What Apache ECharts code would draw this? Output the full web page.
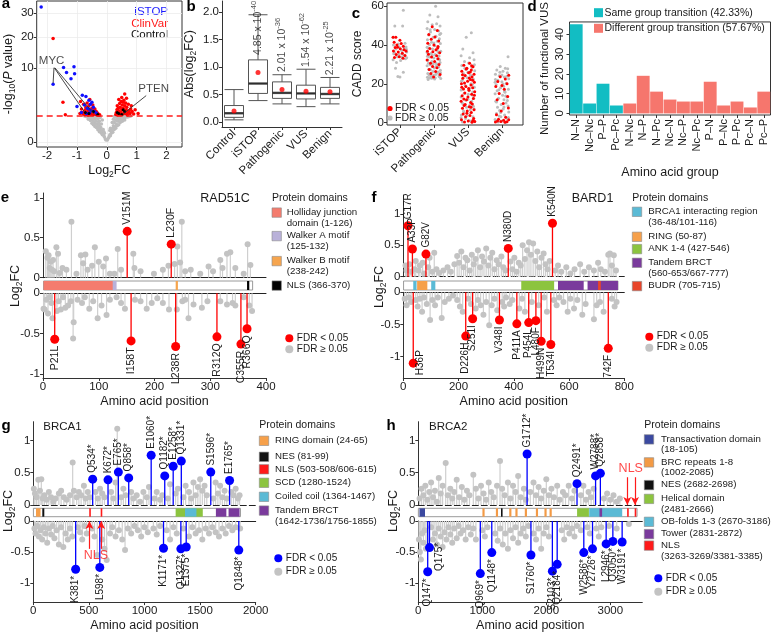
<!DOCTYPE html>
<html><head><meta charset="utf-8">
<script src="https://cdn.jsdelivr.net/npm/echarts@6/dist/echarts.min.js"></script>
<style>html,body{margin:0;padding:0;background:#fff}#c{width:772px;height:635px}</style>
</head><body><div id="c"></div>
<script>
// ---------------- DATA ----------------
// Panel a: volcano plot [log2FC, -log10(P)]
const aGray = [[-0.05,0.02],[-0.08,0.05],[-0.1,0.08],[-0.12,0.12],[-0.15,0.1],[-0.15,0.2],[-0.18,0.15],[-0.2,0.25],[-0.2,0.4],[-0.22,0.3],[-0.25,0.2],[-0.25,0.5],[-0.28,0.35],[-0.3,0.6],[-0.3,0.28],[-0.32,0.45],[-0.35,0.8],[-0.35,0.4],[-0.38,0.6],[-0.4,1.0],[-0.4,0.45],[-0.42,0.75],[-0.45,0.55],[-0.45,1.1],[-0.48,0.9],[-0.5,0.65],[-0.52,1.2],[-0.55,0.85],[-0.58,1.0],[-0.6,1.25],[-0.62,0.95],[-0.65,1.15],[-0.7,1.2],[-0.75,1.25],[-0.12,0.3],[-0.1,0.2],[-0.25,0.8],[-0.3,1.0],[-0.18,0.6],[-0.22,1.1],[-0.15,0.9],[-0.28,1.25],[-0.35,1.2],[-0.08,0.15],[-0.03,0.01],[-0.55,1.25],[-0.45,0.8],[-0.38,1.05],[-0.5,1.0],[-0.27,0.65],
[0.05,0.03],[0.08,0.06],[0.1,0.1],[0.12,0.08],[0.15,0.15],[0.15,0.25],[0.18,0.2],[0.2,0.35],[0.2,0.18],[0.22,0.5],[0.25,0.3],[0.25,0.7],[0.28,0.45],[0.3,0.9],[0.3,0.35],[0.32,0.6],[0.35,1.1],[0.35,0.5],[0.38,0.8],[0.4,1.0],[0.4,0.55],[0.42,1.2],[0.45,0.7],[0.45,1.0],[0.48,0.85],[0.5,1.15],[0.52,0.8],[0.55,1.0],[0.58,1.2],[0.6,0.9],[0.62,1.1],[0.65,1.25],[0.7,1.15],[0.75,1.2],[0.8,1.25],[0.12,0.35],[0.18,0.7],[0.22,0.95],[0.28,1.15],[0.1,0.25],[0.25,1.2],[0.02,0.01],[0.33,0.85],[0.43,0.95],[0.5,1.25],[0.36,1.22]];
const aRed = [[-1.8,19.4],[-1.47,2.9],[-1.39,1.36],[-0.9,1.5],[-0.85,2.0],[-0.8,1.45],[-0.78,2.6],[-0.75,1.7],[-0.72,1.9],[-0.7,2.2],[-0.68,1.4],[-0.65,1.6],[-0.62,1.8],[-0.6,2.4],[-0.58,1.5],[-0.55,1.9],[-0.53,1.4],[-0.5,2.1],[-0.48,1.6],[-0.46,1.35],[-0.44,1.8],[-0.42,1.45],[-0.4,2.0],[-0.38,1.5],[-0.36,1.4],[-0.34,1.65],[-0.32,1.35],[-0.3,1.5],[-0.28,1.4],[-0.26,1.32],[-0.24,1.38],[-0.88,3.0],[-0.66,2.8],[-0.57,3.3],[-0.47,2.5],[-0.73,1.35],[-0.52,1.7],[-0.37,1.75],[-0.63,1.35],[-0.83,1.6],
[0.3,1.4],[0.32,1.6],[0.34,1.9],[0.35,2.4],[0.37,1.5],[0.38,2.1],[0.4,1.8],[0.42,1.4],[0.43,2.7],[0.45,2.2],[0.47,1.6],[0.48,3.0],[0.5,1.9],[0.52,2.5],[0.54,1.45],[0.55,2.1],[0.57,3.2],[0.58,1.7],[0.6,2.4],[0.62,1.5],[0.63,2.8],[0.65,1.9],[0.67,2.2],[0.7,1.6],[0.72,2.6],[0.75,1.8],[0.78,1.5],[0.8,2.0],[0.85,1.7],[0.9,1.45],[0.95,1.9],[1.05,1.5],[0.66,3.5],[0.4,3.3],[0.5,3.6],[0.6,4.2],[0.36,1.35],[0.44,1.55],[0.69,1.35],[0.82,2.4],[0.55,2.9],[0.46,1.38]];
const aBlue = [[-2.2,33],[-2.36,27.7],[-1.8,6.1],[-1.45,10.1],[-1.35,8.8],[-1.1,10.3],[-1.08,8.5],[-1.2,7.3],[-0.82,4.0],[-1.0,2.3],[-0.7,3.8],[-0.6,3.2],[-0.55,2.6],[-0.65,2.1],[-0.5,2.9],[-0.45,2.2],[-0.75,2.5],[-0.6,2.0],[-0.52,1.8],[-0.42,1.7],[-0.85,1.6],[-0.68,1.5],[-0.35,1.55],[-0.58,1.55]];
const aBlack = [[-0.6,1.5],[-0.45,1.7],[-0.3,1.4],[-0.72,1.6],[0.4,1.5],[0.55,1.9],[0.35,1.6],[0.5,1.4],[0.6,1.7]];
const aThreshold = 1.3;
const aXTicks = [-2,-1,0,1,2];
const aYTicks = [0,10,20,30];
const aAnnotLines = [[[-1.77,10.0],[-1.8,6.3]],[[-1.76,10.0],[-0.74,1.63]],[[-1.74,10.0],[-0.44,1.47]],[[1.32,3.93],[0.56,1.47]]];
const aAnnotText = [[-1.85,12.0,'MYC'],[1.57,5.2,'PTEN']];

// Panel b: boxplot stats [min,Q1,median,Q3,max]
const bCats = ['Control','iSTOP','Pathogenic','VUS','Benign'];
const bBox = [[0.04,0.085,0.16,0.30,0.59],[0.39,0.52,0.70,1.13,1.95],[0.33,0.43,0.53,0.73,0.86],[0.28,0.42,0.52,0.67,0.96],[0.33,0.43,0.51,0.63,0.81]];
const bMean = [0.20,0.90,0.59,0.56,0.55];
const bPMant = [null,'4.85','2.01','1.54','2.21'];
const bPExp = [null,'-40','-36','-62','-25'];
const bPAt = [null,1.22,0.91,1.0,0.85];

// Panel c: CADD score, [jitter, score]
const cCats = ['iSTOP','Pathogenic','VUS','Benign'];
const cIstopGray = [[0.1,58],[-0.15,49.8],[0.08,49.8],[-0.2,44],[0.15,41],[-0.05,40.5],[0.18,39],[-0.12,38],[0.05,37.2],[0.2,36.5],[-0.18,35.5],[0.12,34.8],[-0.08,34],[0.16,33],[-0.2,32.5],[0.02,32],[-0.1,31],[-0.13,28],[0.1,26],[0.0,23.5],[-0.06,23.8],[0.19,37.8],[-0.16,36.2],[0.07,35.5],[-0.03,39.2],[0.13,38.6],[-0.19,40],[0.2,33.5],[-0.02,35.2],[0.05,33.8]];
const cIstopRed = [[-0.2,44],[-0.12,44],[0.0,42.5],[-0.17,41.5],[0.04,40.8],[-0.09,40],[0.1,39.4],[-0.14,38.7],[0.01,38.1],[0.12,37.6],[-0.19,37],[-0.05,36.4],[0.07,35.8],[-0.11,35.2],[0.15,34.6],[-0.02,34],[0.09,33.2],[-0.16,33.6],[0.18,36.9],[-0.07,38.9]];
const cPathGray = [[0.05,60],[-0.12,55.5],[0.12,54.6],[-0.18,52],[0.08,51],[-0.05,50.5],[0.18,49.8],[-0.2,48.6],[0.02,48],[0.14,47.2],[-0.1,46.8],[0.2,46],[-0.15,45.2],[0.06,44.6],[-0.02,44],[0.16,43.3],[-0.19,42.7],[0.1,42],[-0.07,41.5],[0.19,40.8],[-0.13,40.2],[0.03,39.7],[0.13,39],[-0.17,38.5],[-0.04,38],[0.09,37.3],[0.2,36.8],[-0.2,36.2],[-0.09,35.6],[0.04,35.1],[0.15,34.4],[-0.14,33.9],[0.0,33.3],[0.11,32.8],[-0.18,32.2],[-0.06,31.6],[0.18,31],[0.07,30.5],[-0.11,29.8],[-0.2,29.3],[0.14,28.7],[0.01,28.2],[-0.15,27.6],[0.19,27],[-0.03,26.4],[0.1,25.9],[-0.18,25.3],[0.05,24.8],[-0.08,24.2],[0.16,23.7],[-0.13,23.1],[0.02,22.5],[0.2,22.8],[-0.19,23.4],[-0.01,24.5],[0.12,26.1],[-0.1,27.3],[0.07,29.1],[-0.16,30.7],[0.17,32.5],[-0.05,34.7],[0.13,36.3],[-0.2,38.9],[0.0,41.1],[0.17,45.4],[-0.11,47.9],[0.08,25.5],[-0.17,22.3],[0.15,24.1],[-0.07,22.9],[0.04,23.2],[-0.14,24.6],[0.19,25.7],[0.11,29.6],[-0.02,30.3],[-0.19,34.2]];
const cPathRed = [[-0.05,49.5],[0.1,47.5],[-0.15,45.5],[0.03,44.2],[-0.08,43],[0.14,42.1],[-0.18,41],[0.0,40],[0.12,39.3],[-0.12,38.2],[0.06,37.6],[-0.03,36.6],[0.17,36],[-0.16,35.3],[0.08,34.5],[-0.07,33.8],[0.12,33],[-0.2,32.3],[0.02,31.5],[-0.1,30.6],[0.15,30],[-0.04,29],[0.09,28.3],[-0.14,27.4],[0.05,26.4],[-0.09,25.4],[0.18,24.8],[-0.01,23.5],[0.11,38.5],[-0.19,36.8]];
const cVusGray = [[0.1,46.4],[-0.05,44],[-0.15,38],[0.15,36],[-0.2,34.5],[0.05,33.5],[0.18,32.4],[-0.1,31.6],[0.02,30.8],[-0.18,29.5],[0.12,28.6],[-0.06,27.5],[0.2,26.8],[-0.13,25.4],[0.07,24.6],[-0.02,23.2],[0.16,22.4],[-0.19,21.3],[0.09,20.1],[-0.08,19.2],[0.19,18.2],[-0.15,17.3],[0.04,16.4],[-0.11,15.2],[0.14,14.1],[-0.2,13.2],[0.0,12.1],[0.11,11],[-0.17,10.2],[0.06,9.1],[-0.04,8],[0.18,7.1],[-0.13,6],[0.08,5.1],[-0.19,4],[0.15,3.1],[-0.07,2.2],[0.03,1.1],[-0.16,0.3],[0.2,0.5],[-0.1,23.9],[0.13,19.7],[-0.2,16.9],[0.01,14.6],[0.17,12.6],[-0.14,9.6],[0.07,6.6],[-0.03,3.6],[0.19,29.8],[-0.09,28.1],[0.12,24.1],[-0.17,21.8],[0.05,17.8],[-0.06,11.5],[0.16,8.5],[-0.2,2.6],[0.1,0.8],[-0.12,5.5],[0.0,26],[0.14,15.8]];
const cVusRed = [[0.05,30.6],[-0.12,29.6],[0.15,28.8],[-0.03,28],[0.1,27.2],[-0.18,26.5],[0.02,25.8],[0.18,25],[-0.08,24.3],[0.12,23.6],[-0.15,22.9],[0.07,22.2],[-0.01,21.4],[0.19,20.8],[-0.19,20.1],[0.09,19.4],[-0.06,18.7],[0.14,18],[-0.13,17.3],[0.03,16.7],[0.2,16],[-0.09,15.3],[0.11,14.6],[-0.17,13.9],[0.0,13.2],[0.16,12.5],[-0.04,11.8],[-0.2,11.1],[0.08,10.4],[0.13,9.6],[-0.11,8.9],[0.04,8.2],[-0.16,7.4],[0.18,6.7],[-0.02,6],[0.1,5.2],[-0.14,4.5],[0.06,3.7],[-0.07,3],[0.17,2.2],[-0.19,1.5],[0.01,0.8],[0.12,0.2],[-0.1,0.3],[0.2,0.6],[-0.05,27.7],[0.07,26.1],[-0.16,24.7],[0.14,21.9],[-0.1,20.4],[0.02,17.6],[0.19,14.1],[-0.12,12.2],[0.09,7.9],[-0.03,4.9],[0.15,1.1],[-0.18,18.3],[0.04,23],[-0.08,9.4],[0.11,29.3]];
const cBenGray = [[0.18,34],[-0.05,29],[0.1,28],[-0.15,27.2],[0.03,26.5],[0.16,25.7],[-0.19,25],[-0.08,24.2],[0.07,23.5],[0.2,22.6],[-0.12,21.9],[0.0,21.1],[0.13,20.3],[-0.17,19.6],[0.05,18.8],[-0.04,18],[0.19,17.2],[-0.14,16.5],[0.09,15.7],[-0.2,14.9],[0.02,14.1],[0.15,13.3],[-0.1,12.6],[0.06,11.8],[-0.18,11],[0.12,10.2],[-0.02,9.4],[0.18,8.6],[-0.13,7.9],[0.04,7.1],[-0.07,6.3],[0.2,5.5],[-0.16,4.7],[0.08,3.9],[-0.03,3.1],[0.14,2.3],[-0.2,1.6],[0.01,0.8],[0.11,0.2],[-0.11,0.4],[0.17,27.8],[-0.06,26],[0.14,23.9],[-0.19,22.3],[0.03,19.9],[-0.09,17],[0.11,13.7],[-0.16,10.6],[0.06,8.1],[-0.04,5.2],[0.19,2.7],[-0.13,1.1],[0.0,24.6],[0.08,16.2],[-0.2,20.9],[0.16,11.4],[-0.08,3.5]];
const cBenRed = [[0.2,24.5],[-0.05,23.7],[0.1,22.5],[-0.12,21.2],[0.15,20.1],[0.0,19.2],[-0.18,18.6],[0.07,17.2],[-0.08,15.1],[0.17,13.5],[-0.14,11.8],[0.04,9.9],[0.19,7.6],[-0.02,6],[-0.16,4.1],[0.11,2.8],[-0.1,1.8],[0.05,1.2],[0.15,0.5],[-0.19,0.3],[-0.03,0.6],[0.09,0.2],[0.2,1.5],[-0.13,0.9]];

// Panel d: functional VUS by amino-acid group transition
const dCats = ['N\u2013N','Nc\u2013Nc','P\u2013P','Pc\u2013Pc','N\u2013Nc','N\u2013P','N\u2013Pc','Nc\u2013N','Nc\u2013P','Nc\u2013Pc','P\u2013N','P\u2013Nc','P\u2013Pc','Pc\u2013N','Pc\u2013P'];
const dValues = [45,5,15,4,5,19,11,7,6,6,16,4,6,3,11];
const dGroup = ['same','same','same','same','diff','diff','diff','diff','diff','diff','diff','diff','diff','diff','diff'];
const dLegend = [['same','Same group transition (42.33%)'],['diff','Different group transition (57.67%)']];

// Panel e: RAD51C [position, log2FC, label]
const eGrayTop = [[5,0.33],[8,0.25],[10,0.28],[12,0.12],[14,0.2],[16,0.1],[18,0.22],[20,0.08],[24,0.38],[27,0.3],[30,0.06],[35,0.12],[42,0.1],[51,0.70],[60,0.05],[68,0.28],[72,0.18],[76,0.29],[80,0.1],[88,0.15],[93,0.38],[100,0.2],[108,0.14],[113,0.24],[120,0.05],[128,0.05],[134,0.36],[140,0.1],[162,0.30],[164,0.12],[175,0.08],[199,0.05],[215,0.1],[225,0.15],[236,0.17],[241,0.39],[246,0.19],[249,0.70],[255,0.08],[265,0.1],[282,0.05],[297,0.14],[305,0.08],[318,0.22],[322,0.12],[330,0.3],[336,0.32],[345,0.12],[360,0.05],[367,0.42],[372,0.16]];
const eGrayBot = [[1,-0.19],[3,-0.2],[6,-0.08],[9,-0.25],[12,-0.05],[15,-0.12],[17,-0.31],[25,-0.22],[28,-0.1],[32,-0.2],[36,-0.05],[40,-0.18],[45,-0.15],[50,-0.1],[54,-0.56],[55,-0.36],[62,-0.08],[70,-0.12],[75,-0.05],[83,-0.19],[90,-0.1],[98,-0.31],[105,-0.15],[114,-0.27],[120,-0.08],[132,-0.05],[140,-0.12],[147,-0.19],[165,-0.08],[175,-0.1],[186,-0.19],[195,-0.12],[205,-0.06],[215,-0.12],[226,-0.2],[240,-0.2],[250,-0.1],[255,-0.08],[261,-0.31],[270,-0.14],[285,-0.18],[295,-0.1],[318,-0.1],[330,-0.14],[340,-0.12],[345,-0.15],[360,-0.05],[370,-0.15],[375,-0.22]];
const eHitTop = [[151,0.58,'V151M'],[230,0.42,'L230F']];
const eHitBot = [[21,-0.57,'P21L'],[158,-0.59,'I158T'],[238,-0.66,'L238R'],[312,-0.54,'R312Q'],[355,-0.63,'C355R'],[366,-0.44,'R366Q']];
const eDomains = [['full',1,376],['Holliday',1,126],['WalkerA',125,132],['WalkerB',238,242],['NLSk',366,370]];

// Panel f: BARD1
const fGrayTop = [[8,0.18],[12,0.1],[22,0.2],[28,0.08],[40,0.12],[45,0.25],[55,0.1],[60,0.18],[70,0.22],[75,0.05],[90,0.15],[95,0.3],[105,0.08],[112,0.38],[120,0.12],[130,0.06],[145,0.1],[160,0.15],[172,0.08],[185,0.2],[195,0.33],[202,0.22],[210,0.4],[218,0.15],[225,0.3],[232,0.26],[240,0.1],[248,0.35],[255,0.2],[262,0.28],[270,0.42],[278,0.15],[285,0.32],[292,0.24],[300,0.45],[308,0.18],[315,0.3],[322,0.38],[330,0.12],[338,0.26],[345,0.2],[355,0.32],[362,0.15],[370,0.1],[388,0.24],[395,0.12],[402,0.3],[410,0.08],[418,0.22],[425,0.18],[432,0.5],[440,0.28],[448,0.42],[455,0.55],[462,0.35],[470,0.53],[478,0.25],[485,0.4],[492,0.15],[500,0.3],[508,0.37],[515,0.2],[522,0.12],[530,0.25],[550,0.1],[560,0.18],[572,0.08],[590,0.15],[605,0.05],[620,0.12],[640,0.2],[655,0.08],[672,0.15],[690,0.1],[705,0.22],[715,0.12],[730,0.08],[742,0.35],[748,0.37],[755,0.18],[762,0.34],[770,0.1]];
const fGrayBot = [[5,-0.1],[12,-0.2],[20,-0.08],[28,-0.15],[45,-0.12],[52,-0.22],[60,-0.1],[68,-0.3],[75,-0.08],[85,-0.18],[97,-0.43],[105,-0.12],[115,-0.2],[125,-0.08],[139,-0.4],[150,-0.15],[165,-0.1],[180,-0.05],[195,-0.12],[205,-0.22],[215,-0.3],[235,-0.1],[245,-0.18],[262,-0.25],[270,-0.12],[280,-0.2],[290,-0.35],[300,-0.15],[311,-0.51],[320,-0.2],[330,-0.1],[340,-0.28],[358,-0.15],[365,-0.22],[372,-0.08],[385,-0.18],[395,-0.12],[420,-0.25],[430,-0.1],[440,-0.3],[465,-0.15],[490,-0.2],[510,-0.08],[520,-0.3],[545,-0.12],[555,-0.2],[565,-0.08],[580,-0.15],[595,-0.3],[605,-0.1],[618,-0.25],[630,-0.12],[648,-0.35],[660,-0.18],[690,-0.42],[700,-0.2],[712,-0.15],[725,-0.3],[755,-0.1],[765,-0.22],[772,-0.15]];
const fHitTop = [[17,0.81,'G17R'],[33,0.44,'A33P'],[82,0.36,'G82V'],[380,0.45,'N380D'],[540,0.85,'K540N']];
const fHitBot = [[36,-1.10,'H36P'],[226,-0.68,'D226H'],[251,-0.41,'S251I'],[348,-0.43,'V348I'],[411,-0.49,'P411A'],[454,-0.47,'P454L'],[480,-0.44,'L480F'],[499,-0.76,'H499N'],[534,-0.81,'T534I'],[742,-0.87,'742F']];
const fDomains = [['full',1,777],['BRCA1int',36,48],['BRCA1int',101,116],['RING',50,87],['ANK',427,546],['BRCT',560,653],['BRCT',667,777],['BUDR',705,715]];

// Panel g: BRCA1
const gGrayTop = [[5,0.25],[15,0.18],[30,0.12],[45,0.39],[60,0.22],[72,0.4],[85,0.1],[100,0.15],[120,0.08],[140,0.2],[160,0.12],[180,0.05],[200,0.1],[230,0.18],[250,0.22],[275,0.12],[300,0.08],[330,0.15],[354,0.66],[365,0.22],[390,0.12],[410,0.2],[430,0.15],[455,0.3],[470,0.1],[490,0.2],[510,0.12],[560,0.2],[580,0.1],[600,0.25],[620,0.18],[640,0.12],[700,0.2],[720,0.1],[740,0.35],[755,1.18],[790,0.12],[810,0.25],[830,0.15],[880,0.2],[900,0.1],[930,0.15],[960,0.05],[990,0.2],[1020,0.12],[1040,0.28],[1090,0.1],[1110,0.2],[1140,0.08],[1160,0.15],[1210,0.1],[1230,0.32],[1280,0.18],[1300,0.25],[1350,0.12],[1370,0.3],[1400,0.2],[1420,0.1],[1440,0.35],[1460,0.15],[1480,0.28],[1500,0.4],[1520,0.22],[1540,0.3],[1560,0.15],[1620,0.1],[1640,0.35],[1660,0.18],[1680,0.3],[1700,0.12],[1720,0.22],[1740,0.1],[1780,0.2],[1800,0.15],[1820,0.25],[1840,0.1],[1855,0.15]];
const gGrayBot = [[10,-0.12],[20,-0.2],[35,-0.08],[50,-0.25],[65,-0.15],[80,-0.3],[95,-0.1],[110,-0.2],[125,-0.35],[140,-0.12],[160,-0.22],[175,-0.08],[190,-0.28],[210,-0.15],[230,-0.38],[250,-0.1],[270,-0.42],[290,-0.2],[310,-0.3],[330,-0.12],[350,-0.25],[400,-0.1],[420,-0.18],[440,-0.3],[460,-0.08],[480,-0.2],[530,-0.12],[550,-0.25],[575,-0.55],[620,-0.3],[640,-0.45],[660,-0.63],[690,-0.2],[710,-0.1],[740,-0.25],[770,-0.15],[800,-0.3],[825,-0.47],[850,-0.12],[880,-0.2],[910,-0.08],[940,-0.15],[970,-0.25],[1000,-0.1],[1030,-0.18],[1080,-0.12],[1110,-0.22],[1140,-0.08],[1200,-0.15],[1230,-0.3],[1260,-0.1],[1290,-0.2],[1350,-0.12],[1400,-0.25],[1430,-0.1],[1460,-0.2],[1490,-0.15],[1520,-0.3],[1550,-0.12],[1580,-0.2],[1610,-0.1],[1640,-0.18],[1670,-0.25],[1700,-0.12],[1730,-0.2],[1760,-0.08],[1790,-0.15],[1820,-0.1],[1860,-0.12]];
const gHitTop = [[534,0.40,'Q534*'],[672,0.39,'K672*'],[765,0.51,'E765*'],[858,0.42,'Q858*'],[1060,0.77,'E1060*'],[1182,0.45,'Q1182*'],[1258,0.60,'E1258*'],[1331,0.68,'Q1331*'],[1596,0.51,'S1596*'],[1765,0.38,'E1765*']];
const gHitBot = [[381,-0.78,'K381*'],[598,-0.75,'L598*'],[1171,-0.44,'K1171*'],[1327,-0.45,'Q1327*'],[1375,-0.42,'E1375*'],[1848,-0.47,'Q1848*']];
const gDomains = [['full',1,1863],['RING',24,65],['NES',81,99],['NLS',503,508],['NLS',606,615],['SCD',1280,1524],['Coiled',1364,1467],['BRCT',1642,1736],['BRCT',1756,1855]];
const gNLSArrows = [505,610];

// Panel h: BRCA2
const hGrayTop = [[20,0.1],[50,0.25],[80,0.15],[110,0.3],[140,0.08],[170,0.2],[200,0.35],[230,0.12],[260,0.22],[290,0.05],[320,0.42],[350,0.18],[380,0.3],[428,0.65],[460,0.15],[500,0.25],[530,0.1],[560,0.2],[600,0.39],[640,0.12],[680,0.28],[720,0.08],[760,0.22],[800,0.15],[860,0.47],[900,0.25],[940,0.1],[980,0.3],[1020,0.18],[1060,0.08],[1100,0.35],[1140,0.2],[1180,0.12],[1230,0.3],[1277,0.68],[1310,0.25],[1350,0.15],[1400,0.35],[1440,0.1],[1480,0.3],[1520,0.2],[1560,0.45],[1600,0.12],[1650,0.25],[1680,0.08],[1750,0.2],[1800,0.35],[1840,0.15],[1880,0.28],[1920,0.1],[1960,0.22],[2000,0.4],[2040,0.15],[2080,0.25],[2120,0.12],[2170,0.3],[2210,0.08],[2260,0.2],[2300,0.15],[2350,0.3],[2400,0.1],[2440,0.22],[2540,0.15],[2580,0.3],[2620,0.08],[2660,0.2],[2700,0.12],[2740,0.25],[2900,0.1],[2950,0.18],[3000,0.08],[3050,0.15],[3100,0.05],[3150,0.1]];
const hGrayBot = [[10,-0.3],[25,-0.5],[40,-0.62],[60,-0.2],[80,-0.35],[100,-0.15],[120,-0.45],[200,-0.1],[230,-0.3],[260,-0.2],[290,-0.38],[320,-0.12],[350,-0.25],[380,-0.42],[410,-0.18],[440,-0.3],[470,-0.1],[500,-0.22],[530,-0.35],[560,-0.12],[600,-0.28],[630,-0.08],[660,-0.2],[700,-0.15],[740,-0.3],[780,-0.1],[820,-0.22],[860,-0.12],[900,-0.3],[1000,-0.15],[1040,-0.25],[1080,-0.1],[1200,-0.2],[1240,-0.32],[1280,-0.12],[1320,-0.38],[1360,-0.2],[1400,-0.45],[1440,-0.15],[1480,-0.28],[1520,-0.1],[1560,-0.35],[1600,-0.2],[1640,-0.12],[1680,-0.25],[1720,-0.08],[1800,-0.2],[1840,-0.3],[1880,-0.12],[1920,-0.45],[1960,-0.2],[2000,-0.1],[2040,-0.25],[2240,-0.15],[2280,-0.3],[2320,-0.1],[2360,-0.2],[2400,-0.12],[2440,-0.25],[2480,-0.08],[2540,-0.15],[2640,-0.1],[2680,-0.2],[2780,-0.12],[2820,-0.25],[2860,-0.1],[2980,-0.08],[3100,-0.12],[3290,-0.05]];
const hHitTop = [[1700,0.79,'G1712*'],[2480,0.33,'Q2491*'],[2770,0.45,'W2788*'],[2845,0.49,'Q2858*']];
const hHitBot = [[147,-0.82,'Q147*'],[175,-0.43,'Q175*'],[969,-0.85,'Q969*'],[1148,-0.51,'Q1148*'],[1760,-0.55,'S1760*'],[2095,-0.81,'S2103*'],[2170,-0.70,'Q2184*'],[2586,-0.51,'W2586*'],[2722,-0.45,'Y2726*'],[2935,-0.37,'L2946*'],[3040,-0.33,'Q3050*'],[3185,-0.34,'W3191*']];
const hDomains = [['full',1,3418],['Trans',18,105],['BRC',1002,1036],['BRC',1212,1246],['BRC',1421,1455],['BRC',1517,1551],['BRC',1664,1698],['BRC',1837,1871],['BRC',1971,2005],['BRC',2051,2085],['NES',1292,1306],['Helical',2481,2666],['OB',2670,3186],['Tower',2831,2872],['NLS',3263,3269],['NLS',3381,3385]];
const hNLSArrows = [3266,3386];

// ---------------- STYLE ----------------
const FONT = "'Liberation Sans', Arial, Helvetica, sans-serif";
const TXT = '#1a1a1a';
const DOMCOL = {full:'#ffffff',Holliday:'#F47C6E',WalkerA:'#B9B1D9',WalkerB:'#F6A54E',NLSk:'#000000',BRCA1int:'#5BBAD5',RING:'#F6A04A',ANK:'#8CC43F',BRCT:'#7A3A9C',BUDR:'#E8452A',NES:'#111111',NLS:'#FF1A1A',SCD:'#8CC43F',Coiled:'#5BBAD5',Trans:'#3B49A0',BRC:'#F39A45',Helical:'#8CC43F',OB:'#5BBAD5',Tower:'#7A3A9C'};
const GROUPCOL = {same:'#12BDC3',diff:'#F6766D'};
const RICH = {sub:{fontSize:8.5,verticalAlign:'bottom',lineHeight:9,fontFamily:FONT,color:TXT},it:{fontStyle:'italic',fontSize:12.5,fontFamily:FONT,color:TXT}};
const LEG = 9.7;   // legend text size
// labels placed beside their stem: position relative to the symbol box [x, y]
const LABEL_BESIDE = {'H36P':[11.5,16.5],'Q175*':[14,28]};

function merge(a,b){for(const k in b){const v=b[k];if(v&&typeof v==='object'&&!Array.isArray(v)){a[k]=merge(a[k]&&typeof a[k]==='object'&&!Array.isArray(a[k])?a[k]:{},v);}else a[k]=v;}return a;}
const AX = {type:'value',axisLine:{show:true,onZero:false,lineStyle:{color:'#333',width:1}},axisTick:{show:true,length:3,lineStyle:{color:'#333'}},axisLabel:{color:TXT,fontSize:11.5,fontFamily:FONT,margin:3},splitLine:{show:false},nameTextStyle:{color:TXT,fontSize:12.5,fontFamily:FONT,lineHeight:16,rich:RICH}};
function axis(extra){return merge(merge({},JSON.parse(JSON.stringify(AX))),extra);}
const sq = v => Math.sqrt(Math.max(v,0));
const plain = v => String(v);

const grids=[], xAxes=[], yAxes=[], series=[], graphics=[];

// ---------------- PANEL A ----------------
grids.push({left:32,top:1,width:150,height:146,show:true,borderColor:'#333',borderWidth:1});
xAxes.push(axis({gridIndex:0,min:-2.35,max:2.52,axisLine:{show:false},axisLabel:{customValues:aXTicks,formatter:plain},axisTick:{customValues:aXTicks},splitLine:{show:true,lineStyle:{color:'#ececec',width:0.8}},name:'Log{sub|2}FC',nameLocation:'middle',nameGap:15}));
yAxes.push(axis({gridIndex:0,min:-0.2,max:6.0,axisLine:{show:false},axisLabel:{customValues:aYTicks.map(sq),formatter:v=>String(Math.round(v*v))},axisTick:{customValues:aYTicks.map(sq)},splitLine:{show:true,lineStyle:{color:'#ececec',width:0.8}},name:'-log{sub|10}({it|P} value)',nameLocation:'middle',nameGap:17}));
const aPt = arr => arr.map(p=>[p[0],sq(p[1])]);
series.push({type:'scatter',xAxisIndex:0,yAxisIndex:0,data:aPt(aGray),symbolSize:3.5,itemStyle:{color:'#bdbdbd',opacity:1},silent:true,
  markLine:{silent:true,symbol:'none',label:{show:false},animation:false,data:[
    {yAxis:sq(aThreshold),lineStyle:{color:'#ff1a1a',type:[6,4],width:1.5}},
    ...aAnnotLines.map(l=>[{coord:[l[0][0],sq(l[0][1])],lineStyle:{color:'#333',width:0.9,type:'solid'}},{coord:[l[1][0],sq(l[1][1])]}])
  ]}});
series.push({type:'scatter',xAxisIndex:0,yAxisIndex:0,data:aPt(aRed),symbolSize:3.5,itemStyle:{color:'#ff0000',opacity:1},silent:true});
series.push({type:'scatter',xAxisIndex:0,yAxisIndex:0,data:aPt(aBlue),symbolSize:3.5,itemStyle:{color:'#1010ff',opacity:1},silent:true});
series.push({type:'scatter',xAxisIndex:0,yAxisIndex:0,data:aPt(aBlack),symbolSize:3,itemStyle:{color:'#000',opacity:1},silent:true});
series.push({type:'scatter',xAxisIndex:0,yAxisIndex:0,data:aAnnotText.map(t=>[t[0],sq(t[1]),t[2]]),symbolSize:0,silent:true,
  label:{show:true,position:'inside',formatter:p=>p.value[2],fontSize:11.5,color:TXT,fontFamily:FONT}});
[['iSTOP','#1a1aff',12],['ClinVar','#ff1a1a',23.5],['Control','#111',35]].forEach(t=>graphics.push({type:'text',x:168,y:t[2],style:{text:t[0],fill:t[1],fontSize:11.5,fontFamily:FONT,align:'right',verticalAlign:'middle'}}));

// ---------------- PANEL B ----------------
grids.push({left:222,top:1,width:120,height:126});
xAxes.push(axis({type:'category',gridIndex:1,data:bCats,axisLabel:{rotate:45,interval:0,margin:5},axisTick:{alignWithLabel:true}}));
yAxes.push(axis({gridIndex:1,min:-0.09,max:2.2,axisLabel:{customValues:[0,0.5,1,1.5,2],formatter:v=>v.toFixed(1)},axisTick:{customValues:[0,0.5,1,1.5,2]},name:'Abs(log{sub|2}FC)',nameLocation:'middle',nameGap:24}));
series.push({type:'boxplot',xAxisIndex:1,yAxisIndex:1,data:bBox,boxWidth:[19,19],silent:true,itemStyle:{color:'#fff',borderColor:'#555',borderWidth:1}});
series.push({type:'scatter',xAxisIndex:1,yAxisIndex:1,data:bBox.map((b,i)=>[i,b[2]]),symbol:'rect',symbolSize:[19,2.4],itemStyle:{color:'#222'},silent:true,z:3});
series.push({type:'scatter',xAxisIndex:1,yAxisIndex:1,data:bMean.map((m,i)=>[i,m]),symbolSize:5,itemStyle:{color:'#ff0000'},silent:true,z:4});
series.push({type:'scatter',xAxisIndex:1,yAxisIndex:1,symbolSize:0,silent:true,z:4,
  data:bPAt.map((v,i)=>v==null?null:[i,v,bPMant[i],bPExp[i]]).filter(d=>d),
  label:{show:true,position:'top',distance:0,rotate:90,align:'left',verticalAlign:'middle',color:TXT,fontSize:10.5,fontFamily:FONT,lineHeight:16,
    formatter:p=>p.value[2]+' x 10{sup|'+p.value[3]+'}',rich:{sup:{fontSize:7.5,verticalAlign:'top',lineHeight:8,color:TXT,fontFamily:FONT}}}});

// ---------------- PANEL C ----------------
grids.push({left:387,top:3,width:136,height:122,show:true,borderColor:'#333',borderWidth:1});
xAxes.push(axis({gridIndex:2,min:-0.38,max:3.62,axisLine:{show:false},axisLabel:{customValues:[0,1,2,3],formatter:v=>cCats[Math.round(v)],rotate:45,margin:5},axisTick:{customValues:[0,1,2,3]}}));
yAxes.push(axis({gridIndex:2,min:-1.2,max:61.7,axisLine:{show:false},axisLabel:{customValues:[0,20,40,60]},axisTick:{customValues:[0,20,40,60]},name:'CADD score',nameLocation:'middle',nameGap:21,nameTextStyle:{fontSize:12}}));
const cGrayAll=[cIstopGray,cPathGray,cVusGray,cBenGray], cRedAll=[cIstopRed,cPathRed,cVusRed,cBenRed];
const jit=(arr,i)=>arr.map(p=>[i+p[0],p[1]]);
cGrayAll.forEach((arr,i)=>series.push({type:'scatter',xAxisIndex:2,yAxisIndex:2,data:jit(arr,i),symbolSize:3,itemStyle:{color:'#bdbdbd',opacity:1},silent:true}));
cRedAll.forEach((arr,i)=>series.push({type:'scatter',xAxisIndex:2,yAxisIndex:2,data:jit(arr,i),symbolSize:3,itemStyle:{color:'#ff0000',opacity:1},silent:true}));
graphics.push({type:'circle',shape:{cx:390,cy:108.5,r:2.6},style:{fill:'#ff0000'}},{type:'text',x:395,y:108.5,style:{text:'FDR < 0.05',fontSize:10.5,fontFamily:FONT,fill:TXT,verticalAlign:'middle'}},
  {type:'circle',shape:{cx:390,cy:118,r:2.6},style:{fill:'#bdbdbd'}},{type:'text',x:395,y:118,style:{text:'FDR \u2265 0.05',fontSize:10.5,fontFamily:FONT,fill:TXT,verticalAlign:'middle'}});

// ---------------- PANEL D ----------------
grids.push({left:569.5,top:3,width:201,height:112,show:true,borderColor:'#333',borderWidth:1});
xAxes.push(axis({type:'category',gridIndex:3,data:dCats,axisLine:{show:false},axisLabel:{rotate:90,interval:0,fontSize:11,margin:4},axisTick:{alignWithLabel:true},name:'Amino acid group',nameLocation:'middle',nameGap:50}));
yAxes.push(axis({gridIndex:3,min:-0.8,max:46.2,axisLine:{show:false},axisLabel:{customValues:[0,10,20,30,40],rotate:90,margin:4},axisTick:{customValues:[0,10,20,30,40]},name:'Number of functional VUS',nameLocation:'middle',nameGap:15,nameTextStyle:{fontSize:11.5}}));
series.push({type:'bar',xAxisIndex:3,yAxisIndex:3,barCategoryGap:'4%',silent:true,data:dValues.map((v,i)=>({value:v,itemStyle:{color:GROUPCOL[dGroup[i]]}}))});
dLegend.forEach((l,i)=>{const y=[12.7,28.3][i];graphics.push({type:'rect',shape:{x:594,y:y-4.5,width:9,height:9},style:{fill:GROUPCOL[l[0]]}},{type:'text',x:604.5,y:y,style:{text:l[1],fontSize:10.5,fontFamily:FONT,fill:TXT,verticalAlign:'middle'}});});

// ---------------- LOLLIPOP PANELS ----------------
const fmtY = v => Math.abs(v)<1e-9?'0':String(v);
function stems(xi,yi,data,color,w,z){return {type:'custom',xAxisIndex:xi,yAxisIndex:yi,data:data.map(d=>[d[0],d[1]]),encode:{x:0,y:1},silent:true,z:z,
  renderItem:(p,api)=>{const x=api.value(0),y=api.value(1);const a=api.coord([x,0]),b=api.coord([x,y]);return {type:'line',shape:{x1:a[0],y1:a[1],x2:b[0],y2:b[1]},style:{stroke:color,lineWidth:w}};}};}
function lolli(P){
  const gT=grids.push({left:P.left,top:P.tTop,width:P.width,height:P.tH})-1;
  const gD=grids.push({left:P.left,top:P.dTop,width:P.width,height:P.dH})-1;
  const gB=grids.push({left:P.left,top:P.bTop,width:P.width,height:P.bH})-1;
  const xT=xAxes.push(axis({gridIndex:gT,min:0,max:P.xMax,axisLine:{lineStyle:{color:'#222',type:P.dash}},axisTick:{show:false},axisLabel:{show:false}}))-1;
  const xD=xAxes.push({type:'value',gridIndex:gD,min:0,max:P.xMax,show:false})-1;
  const xB=xAxes.push(axis({gridIndex:gB,min:0,max:P.xMax,position:'bottom',axisLabel:{customValues:P.xTicks,formatter:plain},axisTick:{customValues:P.xTicks},name:'Amino acid position',nameLocation:'middle',nameGap:P.nameGap}))-1;
  xAxes.push(axis({gridIndex:gB,min:0,max:P.xMax,position:'top',axisLine:{lineStyle:{color:'#222'}},axisTick:{show:false},axisLabel:{show:false}}));
  const yT=yAxes.push(axis({gridIndex:gT,min:0,max:P.tMax,axisLabel:{customValues:[0,0.5,1],formatter:fmtY},axisTick:{customValues:[0,0.5,1]}}))-1;
  const yD=yAxes.push({type:'value',gridIndex:gD,min:0,max:1,show:false})-1;
  const yB=yAxes.push(axis({gridIndex:gB,min:P.bMin,max:0,axisLabel:{customValues:[-1,-0.5,0],formatter:fmtY},axisTick:{customValues:[-1,-0.5,0]}}))-1;
  const G1='#cfcfcf', G2='#c3c3c3';
  series.push(stems(xT,yT,P.grayTop,G1,1.2,1));
  series.push(stems(xB,yB,P.grayBot,G1,1.2,1));
  series.push({type:'scatter',xAxisIndex:xT,yAxisIndex:yT,data:P.grayTop,symbolSize:6,itemStyle:{color:G2,opacity:1},silent:true,z:2});
  series.push({type:'scatter',xAxisIndex:xB,yAxisIndex:yB,data:P.grayBot,symbolSize:6,itemStyle:{color:G2,opacity:1},silent:true,z:2});
  series.push(stems(xT,yT,P.hitTop,P.hit,1.3,3));
  series.push(stems(xB,yB,P.hitBot,P.hit,1.3,3));
  const lab=(pos,al)=>({show:true,formatter:p=>p.value[2],position:pos,rotate:90,align:al,verticalAlign:'middle',distance:2,fontSize:P.lab,color:TXT,fontFamily:FONT});
  const dot=(xi,yi,data,label)=>({type:'scatter',xAxisIndex:xi,yAxisIndex:yi,data,symbolSize:9,itemStyle:{color:P.hit,opacity:1},silent:true,z:4,label,labelLayout:{hideOverlap:false}});
  const normal=arr=>arr.filter(d=>!LABEL_BESIDE[d[2]]), beside=arr=>arr.filter(d=>LABEL_BESIDE[d[2]]);
  series.push(dot(xT,yT,normal(P.hitTop),lab('top','left')));
  series.push(dot(xB,yB,normal(P.hitBot),lab('bottom','right')));
  beside(P.hitBot).forEach(d=>series.push(dot(xB,yB,[d],lab(LABEL_BESIDE[d[2]],'left'))));
  const names=P.domains.map(d=>d[0]);
  series.push({type:'custom',xAxisIndex:xD,yAxisIndex:yD,silent:true,z:2,data:P.domains.map((d,i)=>[d[1],d[2],i]),encode:{x:[0,1]},
    renderItem:(p,api)=>{const s=api.value(0),e=api.value(1),nm=names[api.value(2)];const a=api.coord([s,0]),b=api.coord([e,1]);
      const w=Math.max(b[0]-a[0],1.6);return {type:'rect',shape:{x:a[0],y:b[1],width:w,height:a[1]-b[1]},style:{fill:DOMCOL[nm],stroke:nm==='full'?'#9a9a9a':null,lineWidth:1}};}});
  return {xT,yT,xB,yB};
}
function domLegend(sqX,txX,titleY,items){
  graphics.push({type:'text',x:sqX,y:titleY,style:{text:'Protein domains',fontSize:10.5,fontFamily:FONT,fill:TXT,verticalAlign:'middle'}});
  items.forEach(it=>{graphics.push({type:'rect',shape:{x:sqX,y:it[2]-4.6,width:9.4,height:9.4},style:{fill:DOMCOL[it[0]],stroke:'#8a8a8a',lineWidth:0.6}});
    graphics.push({type:'text',x:txX,y:it[2]-5.5,style:{text:it[1],fontSize:LEG,fontFamily:FONT,fill:TXT,verticalAlign:'top',lineHeight:10.6}});});
}
function fdrLegend(x,y1,y2,col){
  graphics.push({type:'circle',shape:{cx:x,cy:y1,r:4},style:{fill:col}},{type:'text',x:x+7.5,y:y1,style:{text:'FDR < 0.05',fontSize:10,fontFamily:FONT,fill:TXT,verticalAlign:'middle'}},
    {type:'circle',shape:{cx:x,cy:y2,r:4},style:{fill:'#c3c3c3'}},{type:'text',x:x+7.5,y:y2,style:{text:'FDR \u2265 0.05',fontSize:10,fontFamily:FONT,fill:TXT,verticalAlign:'middle'}});
}
function yTitle(x,y){graphics.push({type:'text',x:x,y:y,rotation:Math.PI/2,style:{text:'Log{sub|2}FC',rich:RICH,fontSize:12.5,fontFamily:FONT,fill:TXT,align:'center',verticalAlign:'middle',lineHeight:16}});}

// e RAD51C
lolli({left:43,width:223,xMax:400,xTicks:[0,100,200,300,400],tTop:193,tH:84.7,tMax:1.06,dTop:281,dH:9,bTop:293.3,bH:84.7,bMin:-1.05,dash:'solid',
  grayTop:eGrayTop,grayBot:eGrayBot,hitTop:eHitTop,hitBot:eHitBot,hit:'#ff0000',domains:eDomains,lab:10.5,nameGap:16});
// f BARD1
lolli({left:403.3,width:221,xMax:800,xTicks:[0,200,400,600,800],tTop:195,tH:81.7,tMax:1.3,dTop:281,dH:9,bTop:292.3,bH:85.7,bMin:-1.33,dash:[6,3],
  grayTop:fGrayTop,grayBot:fGrayBot,hitTop:fHitTop,hitBot:fHitBot,hit:'#ff0000',domains:fDomains,lab:10,nameGap:16});
// g BRCA1
const gAx = lolli({left:33.3,width:222.4,xMax:2000,xTicks:[0,500,1000,1500,2000],tTop:421.7,tH:83.3,tMax:1.29,dTop:508.3,dH:8.4,bTop:521,bH:85,bMin:-1.31,dash:[6,3],
  grayTop:gGrayTop,grayBot:gGrayBot,hitTop:gHitTop,hitBot:gHitBot,hit:'#0000ff',domains:gDomains,lab:10,nameGap:15});
// h BRCA2
const hAx = lolli({left:418.3,width:224,xMax:3500,xTicks:[0,1000,2000,3000],tTop:421.7,tH:83.3,tMax:1.29,dTop:508.3,dH:8.4,bTop:521,bH:85,bMin:-1.31,dash:[6,3],
  grayTop:hGrayTop,grayBot:hGrayBot,hitTop:hHitTop,hitBot:hHitBot,hit:'#0000ff',domains:hDomains,lab:10,nameGap:15});

// NLS arrows
series.push({type:'scatter',xAxisIndex:gAx.xB,yAxisIndex:gAx.yB,data:[[563,-0.55,'NLS']],symbolSize:0,silent:true,z:5,
  label:{show:true,position:'inside',formatter:'NLS',color:'#ff1a1a',fontSize:12.5,fontFamily:FONT},
  markLine:{silent:true,symbol:['none','arrow'],symbolSize:[6,8],label:{show:false},lineStyle:{color:'#ff1a1a',width:1.2,type:'solid'},
    data:gNLSArrows.map(x=>[{coord:[x,-0.45]},{coord:[x,0]}])}});
series.push({type:'scatter',xAxisIndex:hAx.xT,yAxisIndex:hAx.yT,data:[[3320,0.57,'NLS']],symbolSize:0,silent:true,z:5,
  label:{show:true,position:'inside',formatter:'NLS',color:'#ff1a1a',fontSize:12.5,fontFamily:FONT},
  markLine:{silent:true,symbol:['none','arrow'],symbolSize:[6,8],label:{show:false},lineStyle:{color:'#ff1a1a',width:1.2,type:'solid'},
    data:hNLSArrows.map(x=>[{coord:[x,0.43]},{coord:[x,0]}])}});

// titles & legends
graphics.push({type:'text',x:225,y:199,style:{text:'RAD51C',fontSize:12.5,fontFamily:FONT,fill:TXT,align:'center',verticalAlign:'middle'}});
graphics.push({type:'text',x:592.5,y:199,style:{text:'BARD1',fontSize:12.5,fontFamily:FONT,fill:TXT,align:'center',verticalAlign:'middle'}});
graphics.push({type:'text',x:43.3,y:426.7,style:{text:'BRCA1',fontSize:11.5,fontFamily:FONT,fill:TXT,verticalAlign:'middle'}});
graphics.push({type:'text',x:429,y:426.7,style:{text:'BRCA2',fontSize:11.5,fontFamily:FONT,fill:TXT,verticalAlign:'middle'}});
domLegend(272,286.7,198,[['Holliday','Holliday junction\ndomain (1-126)',212.5],['WalkerA','Walker A motif\n(125-132)',236],['WalkerB','Walker B motif\n(238-242)',261],['NLSk','NLS (366-370)',285.5]]);
domLegend(632.3,648.3,197.7,[['BRCA1int','BRCA1 interacting region\n(36-48/101-116)',211.7],['RING','RING (50-87)',236.7],['ANK','ANK 1-4 (427-546)',249],['BRCT','Tandem BRCT\n(560-653/667-777)',262.7],['BUDR','BUDR (705-715)',286]]);
domLegend(259.3,275,425,[['RING','RING domain (24-65)',440.7],['NES','NES (81-99)',456.7],['NLS','NLS (503-508/606-615)',469.2],['SCD','SCD (1280-1524)',482.7],['Coiled','Coiled coil (1364-1467)',496.7],['BRCT','Tandem BRCT\n(1642-1736/1756-1855)',510.5]]);
domLegend(644.3,661,425,[['Trans','Transactivation domain\n(18-105)',439.3],['BRC','BRC repeats 1-8\n(1002-2085)',462.3],['NES','NES (2682-2698)',485],['Helical','Helical domain\n(2481-2666)',498.8],['OB','OB-folds 1-3 (2670-3186)',521.7],['Tower','Tower (2831-2872)',534],['NLS','NLS\n(3263-3269/3381-3385)',545.5]]);
fdrLegend(289.3,338.3,349.3,'#ff0000');
fdrLegend(649.3,336.7,347.7,'#ff0000');
fdrLegend(278.3,558.3,571.7,'#0000ff');
fdrLegend(658.3,578.3,591.7,'#0000ff');
yTitle(16,286);yTitle(380,287);yTitle(9,511);yTitle(394,511);
[['a',6,4],['b',191,7],['c',356,14],['d',532,7],['e',5,198],['f',374,198],['g',6,426],['h',391,426]].forEach(l=>graphics.push({type:'text',x:l[1],y:l[2],style:{text:l[0],fontSize:15,fontWeight:'bold',fontFamily:FONT,fill:'#000',align:'center',verticalAlign:'middle'}}));

const chart = echarts.init(document.getElementById('c'),null,{renderer:'canvas'});
chart.setOption({animation:false,textStyle:{fontFamily:FONT},grid:grids,xAxis:xAxes,yAxis:yAxes,series:series,graphic:graphics});
</script></body></html>
